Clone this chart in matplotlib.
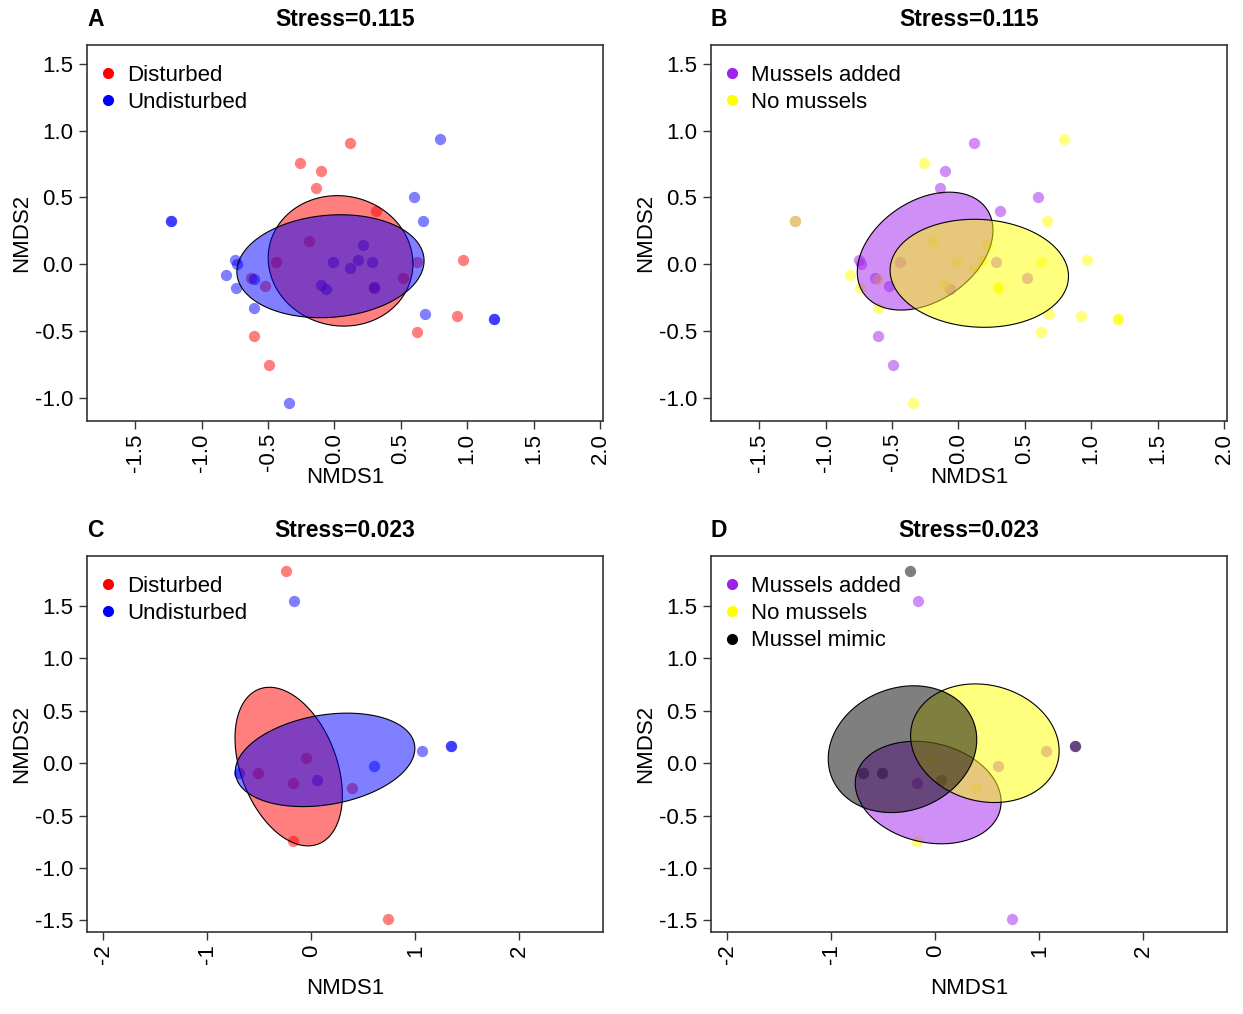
import numpy as np
import matplotlib
matplotlib.use("Agg")
import matplotlib.pyplot as plt
from matplotlib.colors import to_rgba
from matplotlib.lines import Line2D

plt.rcParams['font.family'] = ['Liberation Sans', 'DejaVu Sans']

# NMDS scores, first survey (panels A and B)
nmds1_2018 = [0.117, -0.256, -0.101, -0.137, 0.793, -1.234, -1.234, 0.596, 0.314, 0.664,
              -0.195, -0.748, -0.733, -0.816, -0.740, -0.626, -0.608, -0.522, -0.603, -0.441,
              -0.008, 0.213, 0.177, 0.117, 0.281, -0.101, -0.063, 0.299, 0.299, 0.621,
              0.520, 0.968, 0.679, 0.920, 1.200, 1.200, 0.621, -0.603, -0.490, -0.340]
nmds2_2018 = [0.905, 0.760, 0.700, 0.568, 0.940, 0.325, 0.325, 0.500, 0.395, 0.325,
              0.173, 0.030, 0.000, -0.080, -0.180, -0.100, -0.110, -0.160, -0.330, 0.013,
              0.013, 0.140, 0.035, -0.025, 0.013, -0.158, -0.185, -0.175, -0.168, 0.018,
              -0.100, 0.035, -0.370, -0.390, -0.410, -0.410, -0.510, -0.540, -0.755, -1.040]
disturb_2018 = ['D', 'D', 'D', 'D', 'U', 'U', 'U', 'U', 'D', 'U',
                'D', 'U', 'U', 'U', 'U', 'D', 'U', 'D', 'U', 'D',
                'U', 'U', 'U', 'U', 'U', 'U', 'U', 'D', 'U', 'D',
                'D', 'D', 'U', 'D', 'U', 'U', 'D', 'D', 'D', 'U']
mussel_2018 = ['M', 'N', 'M', 'M', 'N', 'M', 'N', 'M', 'M', 'N',
               'N', 'M', 'M', 'N', 'N', 'M', 'N', 'M', 'N', 'M',
               'N', 'N', 'N', 'N', 'M', 'N', 'M', 'N', 'N', 'N',
               'M', 'N', 'N', 'N', 'N', 'N', 'N', 'M', 'M', 'N']

# NMDS scores, second survey (panels C and D)
nmds1_2019 = [-0.240, -0.166, -0.698, -0.513, -0.179, -0.055, 0.055,
              0.393, 0.600, 1.061, 1.340, 1.340, -0.179, 0.737]
nmds2_2019 = [1.839, 1.546, -0.096, -0.096, -0.191, 0.054, -0.159,
              -0.233, -0.022, 0.112, 0.163, 0.163, -0.743, -1.485]
disturb_2019 = ['D', 'U', 'U', 'D', 'D', 'D', 'U',
                'D', 'U', 'U', 'U', 'U', 'D', 'D']
mussel_2019 = ['X', 'M', 'X', 'X', 'M', 'N', 'X',
               'N', 'M', 'M', 'M', 'X', 'N', 'M']

# group ellipses: centre x, centre y, x half-extent, y half-extent, covariance
ell_disturb_2018 = {'D': (0.046, 0.025, 0.545, 0.488, -0.012),
                    'U': (-0.030, -0.015, 0.705, 0.385, 0.029)}
ell_mussel_2018 = {'M': (-0.251, 0.098, 0.511, 0.441, 0.080),
                   'N': (0.157, -0.068, 0.672, 0.404, -0.015)}
ell_disturb_2019 = {'D': (-0.217, -0.032, 0.516, 0.757, -0.140),
                    'U': (0.133, 0.032, 0.863, 0.446, 0.095)}
ell_mussel_2019 = {'M': (-0.068, -0.280, 0.701, 0.489, -0.062),
                   'N': (0.477, 0.191, 0.714, 0.566, -0.052),
                   'X': (-0.315, 0.134, 0.714, 0.605, 0.065)}

disturb_labels = {'D': 'Disturbed', 'U': 'Undisturbed'}
disturb_colours = {'D': 'red', 'U': 'blue'}
mussel_labels = {'M': 'Mussels added', 'N': 'No mussels', 'X': 'Mussel mimic'}
mussel_colours = {'M': '#A020F0', 'N': '#FFFF00', 'X': 'black'}

xticks_2018 = [-1.5, -1.0, -0.5, 0.0, 0.5, 1.0, 1.5, 2.0]
xticklabels_2018 = ['-1.5', '-1.0', '-0.5', '0.0', '0.5', '1.0', '1.5', '2.0']
yticks_2018 = [-1.0, -0.5, 0.0, 0.5, 1.0, 1.5]
xticks_2019 = [-2, -1, 0, 1, 2]
xticklabels_2019 = ['-2', '-1', '0', '1', '2']
yticks_2019 = [-1.5, -1.0, -0.5, 0.0, 0.5, 1.0, 1.5]

stress_2018 = '0.115'
stress_2019 = '0.023'


def ellipse_xy(cx, cy, hx, hy, cxy, n=240):
    cov = np.array([[hx ** 2, cxy], [cxy, hy ** 2]])
    chol = np.linalg.cholesky(cov)
    t = np.linspace(0, 2 * np.pi, n)
    xy = chol @ np.vstack([np.cos(t), np.sin(t)])
    return cx + xy[0], cy + xy[1]


def nmds_panel(ax, x, y, groups, order, colours, labels, ellipses,
               xticks, xticklabels, yticks, xlim, ylim, letter, stress):
    x = np.asarray(x)
    y = np.asarray(y)
    groups = np.asarray(groups)

    for g in order:
        m = groups == g
        ax.scatter(x[m], y[m], s=66, color=colours[g], alpha=0.5,
                   linewidths=0, zorder=2)
    for g in order:
        ex, ey = ellipse_xy(*ellipses[g])
        ax.fill(ex, ey, facecolor=to_rgba(colours[g], 0.5),
                edgecolor='black', linewidth=0.8, zorder=3)

    ax.set_xlim(*xlim)
    ax.set_ylim(*ylim)
    ax.set_xticks(xticks)
    ax.set_xticklabels(xticklabels, rotation=90)
    ax.set_yticks(yticks)
    ax.set_yticklabels([f'{v:.1f}' for v in yticks])
    ax.tick_params(direction='out', length=5.8, width=1.0, color='#333333',
                   labelsize=16, pad=3)
    ax.tick_params(axis='y', pad=4)
    for sp in ax.spines.values():
        sp.set_color('#333333')
        sp.set_linewidth(1.2)

    ax.set_xlabel('NMDS1', fontsize=16)
    ax.xaxis.set_label_coords(0.5, -0.122)
    ax.set_ylabel('NMDS2', fontsize=16)
    ax.yaxis.set_label_coords(-0.106, 0.5)

    ax.set_title(letter, loc='left', fontweight='bold', fontsize=16.5, pad=14)
    ax.set_title(f'Stress={stress}', fontweight='bold', fontsize=16.5, pad=14)

    handles = [Line2D([], [], ls='', marker='o', ms=7, color=colours[g])
               for g in order]
    ax.legend(handles, [labels[g] for g in order], loc='upper left',
              bbox_to_anchor=(0.023, 0.948), borderaxespad=0, borderpad=0,
              frameon=False, fontsize=16, handlelength=0.8,
              handletextpad=0.48, labelspacing=0.29)


fig = plt.figure(figsize=(12.43, 10.14), dpi=100)
W, H = 1243, 1014
pw, ph = 516, 376
ax_a = fig.add_axes([87 / W, 1 - 421 / H, pw / W, ph / H])
ax_b = fig.add_axes([711 / W, 1 - 421 / H, pw / W, ph / H])
ax_c = fig.add_axes([87 / W, 1 - 932 / H, pw / W, ph / H])
ax_d = fig.add_axes([711 / W, 1 - 932 / H, pw / W, ph / H])

lims_2018 = dict(xlim=(-1.864, 2.023), ylim=(-1.173, 1.640))
lims_2019 = dict(xlim=(-2.156, 2.805), ylim=(-1.611, 1.978))

nmds_panel(ax_a, nmds1_2018, nmds2_2018, disturb_2018, ['D', 'U'],
           disturb_colours, disturb_labels, ell_disturb_2018,
           xticks_2018, xticklabels_2018, yticks_2018,
           letter='A', stress=stress_2018, **lims_2018)
nmds_panel(ax_b, nmds1_2018, nmds2_2018, mussel_2018, ['M', 'N'],
           mussel_colours, mussel_labels, ell_mussel_2018,
           xticks_2018, xticklabels_2018, yticks_2018,
           letter='B', stress=stress_2018, **lims_2018)
nmds_panel(ax_c, nmds1_2019, nmds2_2019, disturb_2019, ['D', 'U'],
           disturb_colours, disturb_labels, ell_disturb_2019,
           xticks_2019, xticklabels_2019, yticks_2019,
           letter='C', stress=stress_2019, **lims_2019)
nmds_panel(ax_d, nmds1_2019, nmds2_2019, mussel_2019, ['M', 'N', 'X'],
           mussel_colours, mussel_labels, ell_mussel_2019,
           xticks_2019, xticklabels_2019, yticks_2019,
           letter='D', stress=stress_2019, **lims_2019)

fig.savefig('out.png', dpi=100, facecolor='white')
